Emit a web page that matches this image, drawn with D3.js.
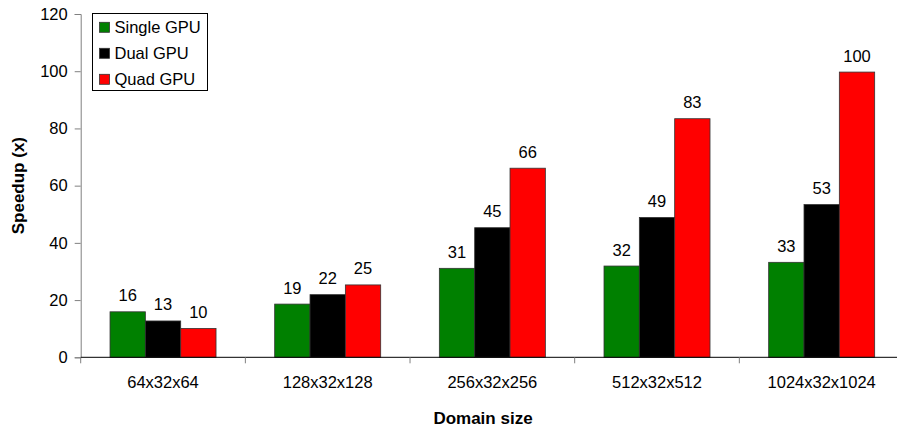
<!DOCTYPE html>
<html>
<head>
<meta charset="utf-8">
<script src="https://cdn.jsdelivr.net/npm/d3@7"></script>
<style>
body { margin: 0; background: #fff; }
text { font-family: "Liberation Sans", Arial, sans-serif; fill: #000; }
</style>
</head>
<body>
<script>
const categories = ["64x32x64", "128x32x128", "256x32x256", "512x32x512", "1024x32x1024"];
const seriesNames = ["Single GPU", "Dual GPU", "Quad GPU"];
const single = [15.9, 18.6, 31.1, 31.9, 33.2];
const dual = [12.7, 21.9, 45.3, 48.9, 53.4];
const quad = [10.1, 25.3, 66.1, 83.4, 99.7];
const yTicks = [0, 20, 40, 60, 80, 100, 120];
const colors = ["#008000", "#000000", "#ff0000"];

const width = 897, height = 431;
const margin = {left: 80.7, top: 14, right: -7, bottom: 74};
const fs = "16.5px";

const svg = d3.select("body").append("svg")
	.attr("width", width)
	.attr("height", height);

const x = d3.scaleBand()
	.domain(categories)
	.range([margin.left, width - margin.right])
	.paddingInner(0)
	.paddingOuter(0);

const x1 = d3.scaleBand()
	.domain(seriesNames)
	.range([0, x.bandwidth()])
	.paddingInner(0)
	.paddingOuter(0.83);

const y = d3.scaleLinear()
	.domain([0, 120])
	.range([height - margin.bottom + 0.3, margin.top]);

const series = [single, dual, quad];

// bars
const groups = svg.append("g").selectAll("g")
	.data(categories)
	.enter().append("g")
	.attr("transform", d => "translate(" + x(d) + ",0)");

groups.selectAll("rect")
	.data((d, i) => series.map((s, k) => ({name: seriesNames[k], v: s[i], k: k})))
	.enter().append("rect")
	.attr("x", d => x1(d.name))
	.attr("y", d => y(d.v))
	.attr("width", x1.bandwidth())
	.attr("height", d => y(0) - y(d.v))
	.attr("fill", d => colors[d.k])
	.attr("stroke", "#333")
	.attr("stroke-width", 0.8);

groups.selectAll("text.val")
	.data((d, i) => series.map((s, k) => ({name: seriesNames[k], v: s[i]})))
	.enter().append("text")
	.attr("class", "val")
	.attr("x", d => x1(d.name) + x1.bandwidth() / 2)
	.attr("y", d => y(d.v) - 10.5)
	.attr("text-anchor", "middle")
	.style("font-size", fs)
	.text(d => Math.round(d.v));

// y axis
const yAxis = svg.append("g")
	.attr("transform", "translate(" + margin.left + ",0)")
	.call(d3.axisLeft(y).tickValues(yTicks).tickSize(6).tickPadding(7));
yAxis.select(".domain").attr("stroke", "#808080");
yAxis.selectAll(".tick line").attr("stroke", "#808080");
yAxis.selectAll("text").style("font-size", fs).attr("fill", "#000");

// x axis
const xAxis = svg.append("g")
	.attr("transform", "translate(0," + y(0) + ")");
xAxis.append("line")
	.attr("x1", margin.left).attr("x2", width)
	.attr("stroke", "#000");
xAxis.selectAll("line.tk")
	.data(categories)
	.enter().append("line")
	.attr("class", "tk")
	.attr("x1", d => x(d)).attr("x2", d => x(d))
	.attr("y1", 0).attr("y2", 6)
	.attr("stroke", "#808080");
xAxis.selectAll("text")
	.data(categories)
	.enter().append("text")
	.attr("x", d => x(d) + x.bandwidth() / 2)
	.attr("y", 31)
	.attr("text-anchor", "middle")
	.style("font-size", fs)
	.text(d => d);

// axis titles
svg.append("text")
	.attr("transform", "translate(23.5," + ((y(0) + y(120)) / 2) + ") rotate(-90)")
	.attr("text-anchor", "middle")
	.style("font-size", "17px")
	.style("font-weight", "bold")
	.text("Speedup (x)");

svg.append("text")
	.attr("x", 483)
	.attr("y", 423.5)
	.attr("text-anchor", "middle")
	.style("font-size", "17px")
	.style("font-weight", "bold")
	.text("Domain size");

// legend
const legend = svg.append("g").attr("transform", "translate(92.5,13.5)");
legend.append("rect")
	.attr("width", 115).attr("height", 77)
	.attr("fill", "#fff").attr("stroke", "#000").attr("stroke-width", 1);
const li = legend.selectAll("g.item")
	.data(seriesNames)
	.enter().append("g")
	.attr("class", "item")
	.attr("transform", (d, i) => "translate(7," + (13.8 + i * 26) + ")");
li.append("rect")
	.attr("x", 0).attr("y", -5)
	.attr("width", 10).attr("height", 10)
	.attr("fill", (d, i) => colors[i])
	.attr("stroke", "#333").attr("stroke-width", 0.8);
li.append("text")
	.attr("x", 15).attr("y", 6)
	.style("font-size", fs)
	.text(d => d);
</script>
</body>
</html>
